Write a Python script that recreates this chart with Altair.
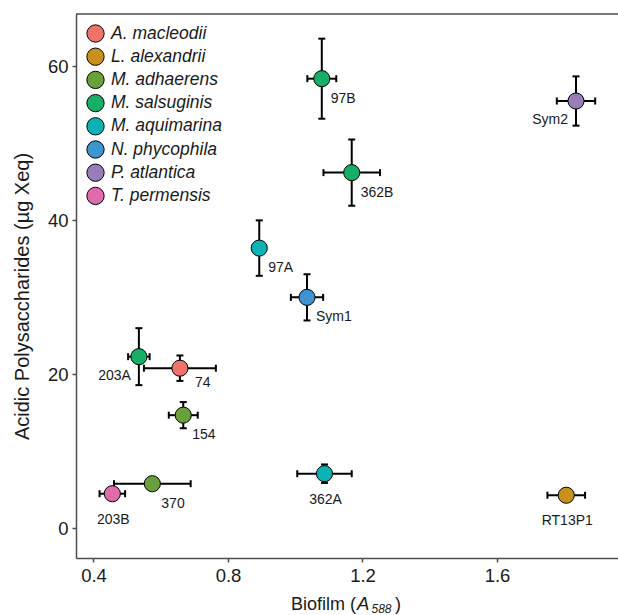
import altair as alt
import pandas as pd

# ---- data ----
strain = ["74", "RT13P1", "154", "370", "97B", "362B", "203A", "97A", "362A", "Sym1", "Sym2", "203B"]
species = ["A. macleodii", "L. alexandrii", "M. adhaerens", "M. adhaerens", "M. salsuginis",
           "M. salsuginis", "M. salsuginis", "M. aquimarina", "M. aquimarina", "N. phycophila",
           "P. atlantica", "T. permensis"]
biofilm = [0.657, 1.806, 0.667, 0.575, 1.079, 1.168, 0.535, 0.893, 1.087, 1.035, 1.835, 0.456]
biofilm_sd = [0.107, 0.056, 0.043, 0.114, 0.043, 0.084, 0.032, 0.0, 0.081, 0.048, 0.057, 0.038]
acidic = [20.8, 4.3, 14.7, 5.8, 58.4, 46.2, 22.3, 36.4, 7.1, 30.0, 55.5, 4.5]
acidic_sd = [1.65, 0.0, 1.7, 0.0, 5.2, 4.3, 3.7, 3.6, 1.2, 3.0, 3.2, 0.0]

species_order = ["A. macleodii", "L. alexandrii", "M. adhaerens", "M. salsuginis",
                 "M. aquimarina", "N. phycophila", "P. atlantica", "T. permensis"]
species_colors = ["#EF736A", "#C8911C", "#69A03B", "#17AE67", "#0CB3B6", "#3F93D0", "#987DB8", "#E06BAA"]

x_ticks = [0.4, 0.8, 1.2, 1.6]
y_ticks = [0, 20, 40, 60]

# label placement groups (style)
labels_right = ["154", "370", "97B", "362B", "97A", "Sym1"]
labels_right_far = ["74"]
labels_left = ["203A", "Sym2"]
labels_below = ["203B", "362A", "RT13P1"]

df = pd.DataFrame({
    "strain": strain, "species": species,
    "biofilm": biofilm, "biofilm_sd": biofilm_sd,
    "acidic": acidic, "acidic_sd": acidic_sd,
})
df["x_lo"] = df["biofilm"] - df["biofilm_sd"]
df["x_hi"] = df["biofilm"] + df["biofilm_sd"]
df["y_lo"] = df["acidic"] - df["acidic_sd"]
df["y_hi"] = df["acidic"] + df["acidic_sd"]

FONT = "Liberation Sans"
AX = "#4d4d4d"
TXT = "#1a1a1a"

W = 542
H = 544
xs = alt.Scale(domain=[0.348, 0.348 + W / 336.25], nice=False, zero=False)
ys = alt.Scale(domain=[-3.85, 66.8], nice=False, zero=False)

x_axis = alt.Axis(values=x_ticks, format=".1f", title=None, grid=False,
                  labelFont=FONT, labelFontSize=18.5, labelColor=TXT, labelPadding=4,
                  tickSize=4, tickColor=AX, tickWidth=1.5, domainColor=AX, domainWidth=1.5)
y_axis = alt.Axis(values=y_ticks, format="d", title="Acidic Polysaccharides (µg Xeq)", grid=False,
                  labelFont=FONT, labelFontSize=18.5, labelColor=TXT, labelPadding=4,
                  tickSize=4, tickColor=AX, tickWidth=1.5, domainColor=AX, domainWidth=1.5,
                  titleFont=FONT, titleFontSize=20, titleFontWeight="normal", titleColor=TXT,
                  titleX=-54, titleY=282, titleAngle=-90, titleAlign="center", titleBaseline="middle")


def X(f):
    return alt.X(f, type="quantitative", scale=xs, axis=x_axis)


def Y(f):
    return alt.Y(f, type="quantitative", scale=ys, axis=y_axis)


base = alt.Chart(df)
xb = base.transform_filter("datum.biofilm_sd > 0")
yb = base.transform_filter("datum.acidic_sd > 0")

x_err = xb.mark_rule(color="black", strokeWidth=2).encode(x=X("x_lo"), x2="x_hi:Q", y=Y("acidic"))
x_cap_lo = xb.mark_tick(orient="vertical", size=7, thickness=2, color="black", opacity=1).encode(x=X("x_lo"), y=Y("acidic"))
x_cap_hi = xb.mark_tick(orient="vertical", size=7, thickness=2, color="black", opacity=1).encode(x=X("x_hi"), y=Y("acidic"))
y_err = yb.mark_rule(color="black", strokeWidth=2).encode(x=X("biofilm"), y=Y("y_lo"), y2="y_hi:Q")
y_cap_lo = yb.mark_tick(orient="horizontal", size=7, thickness=2, color="black", opacity=1).encode(x=X("biofilm"), y=Y("y_lo"))
y_cap_hi = yb.mark_tick(orient="horizontal", size=7, thickness=2, color="black", opacity=1).encode(x=X("biofilm"), y=Y("y_hi"))

points = base.mark_circle(size=260, stroke="black", strokeWidth=1, opacity=1).encode(
    x=X("biofilm"), y=Y("acidic"),
    color=alt.Color("species:N", scale=alt.Scale(domain=species_order, range=species_colors),
                    legend=alt.Legend(title=None, orient="none", legendX=10, legendY=10,
                                      labelFont=FONT, labelFontSize=17.5, labelFontStyle="italic",
                                      labelColor=TXT, labelOffset=6, labelLimit=300,
                                      symbolType="circle", symbolSize=300, symbolStrokeColor="black",
                                      symbolStrokeWidth=1, symbolOpacity=1, rowPadding=0.2, padding=0)),
)

lab_common = dict(font=FONT, fontSize=14, color=TXT)


def labels(names, **kw):
    return base.transform_filter(alt.FieldOneOfPredicate(field="strain", oneOf=names)).mark_text(
        baseline="middle", **kw, **lab_common).encode(x=X("biofilm"), y=Y("acidic"), text="strain:N")


lab_r = labels(labels_right, align="left", dx=9, dy=20)
lab_rf = labels(labels_right_far, align="left", dx=15, dy=15)
lab_l = labels(labels_left, align="right", dx=-8, dy=19)
lab_b = labels(labels_below, align="center", dx=1, dy=26)

# top frame line (panel border continues past the right edge of the picture)
top_line = alt.Chart(pd.DataFrame({"k": [0]})).mark_rule(color=AX, strokeWidth=1.5).encode(
    x=alt.value(0), x2=alt.value(W), y=alt.value(0))

# x-axis title with italic A and subscript 588
t1 = alt.Chart(pd.DataFrame({"t": ["Biofilm ("]})).mark_text(
    align="right", baseline="alphabetic", font=FONT, fontSize=18, color=TXT).encode(
    x=alt.value(280), y=alt.value(596), text="t:N")
t2 = alt.Chart(pd.DataFrame({"t": ["A"]})).mark_text(
    align="left", baseline="alphabetic", font=FONT, fontSize=18.5, fontStyle="italic", color=TXT).encode(
    x=alt.value(281), y=alt.value(596), text="t:N")
t3 = alt.Chart(pd.DataFrame({"t": ["588"]})).mark_text(
    align="left", baseline="alphabetic", font=FONT, fontSize=12, fontStyle="italic", color=TXT).encode(
    x=alt.value(295.5), y=alt.value(599), text="t:N")
t4 = alt.Chart(pd.DataFrame({"t": [")"]})).mark_text(
    align="left", baseline="alphabetic", font=FONT, fontSize=18, color=TXT).encode(
    x=alt.value(319), y=alt.value(596), text="t:N")

chart = alt.layer(
    top_line, x_err, y_err, x_cap_lo, x_cap_hi, y_cap_lo, y_cap_hi, points,
    lab_r, lab_rf, lab_l, lab_b, t1, t2, t3, t4
).properties(
    width=W, height=H,
    autosize=alt.AutoSizeParams(type="none"),
    padding={"left": 76, "top": 14, "right": 0, "bottom": 57},
    background="white",
).configure_view(strokeWidth=0)

chart.save("out.html", embed_options={"renderer": "svg", "actions": False})
